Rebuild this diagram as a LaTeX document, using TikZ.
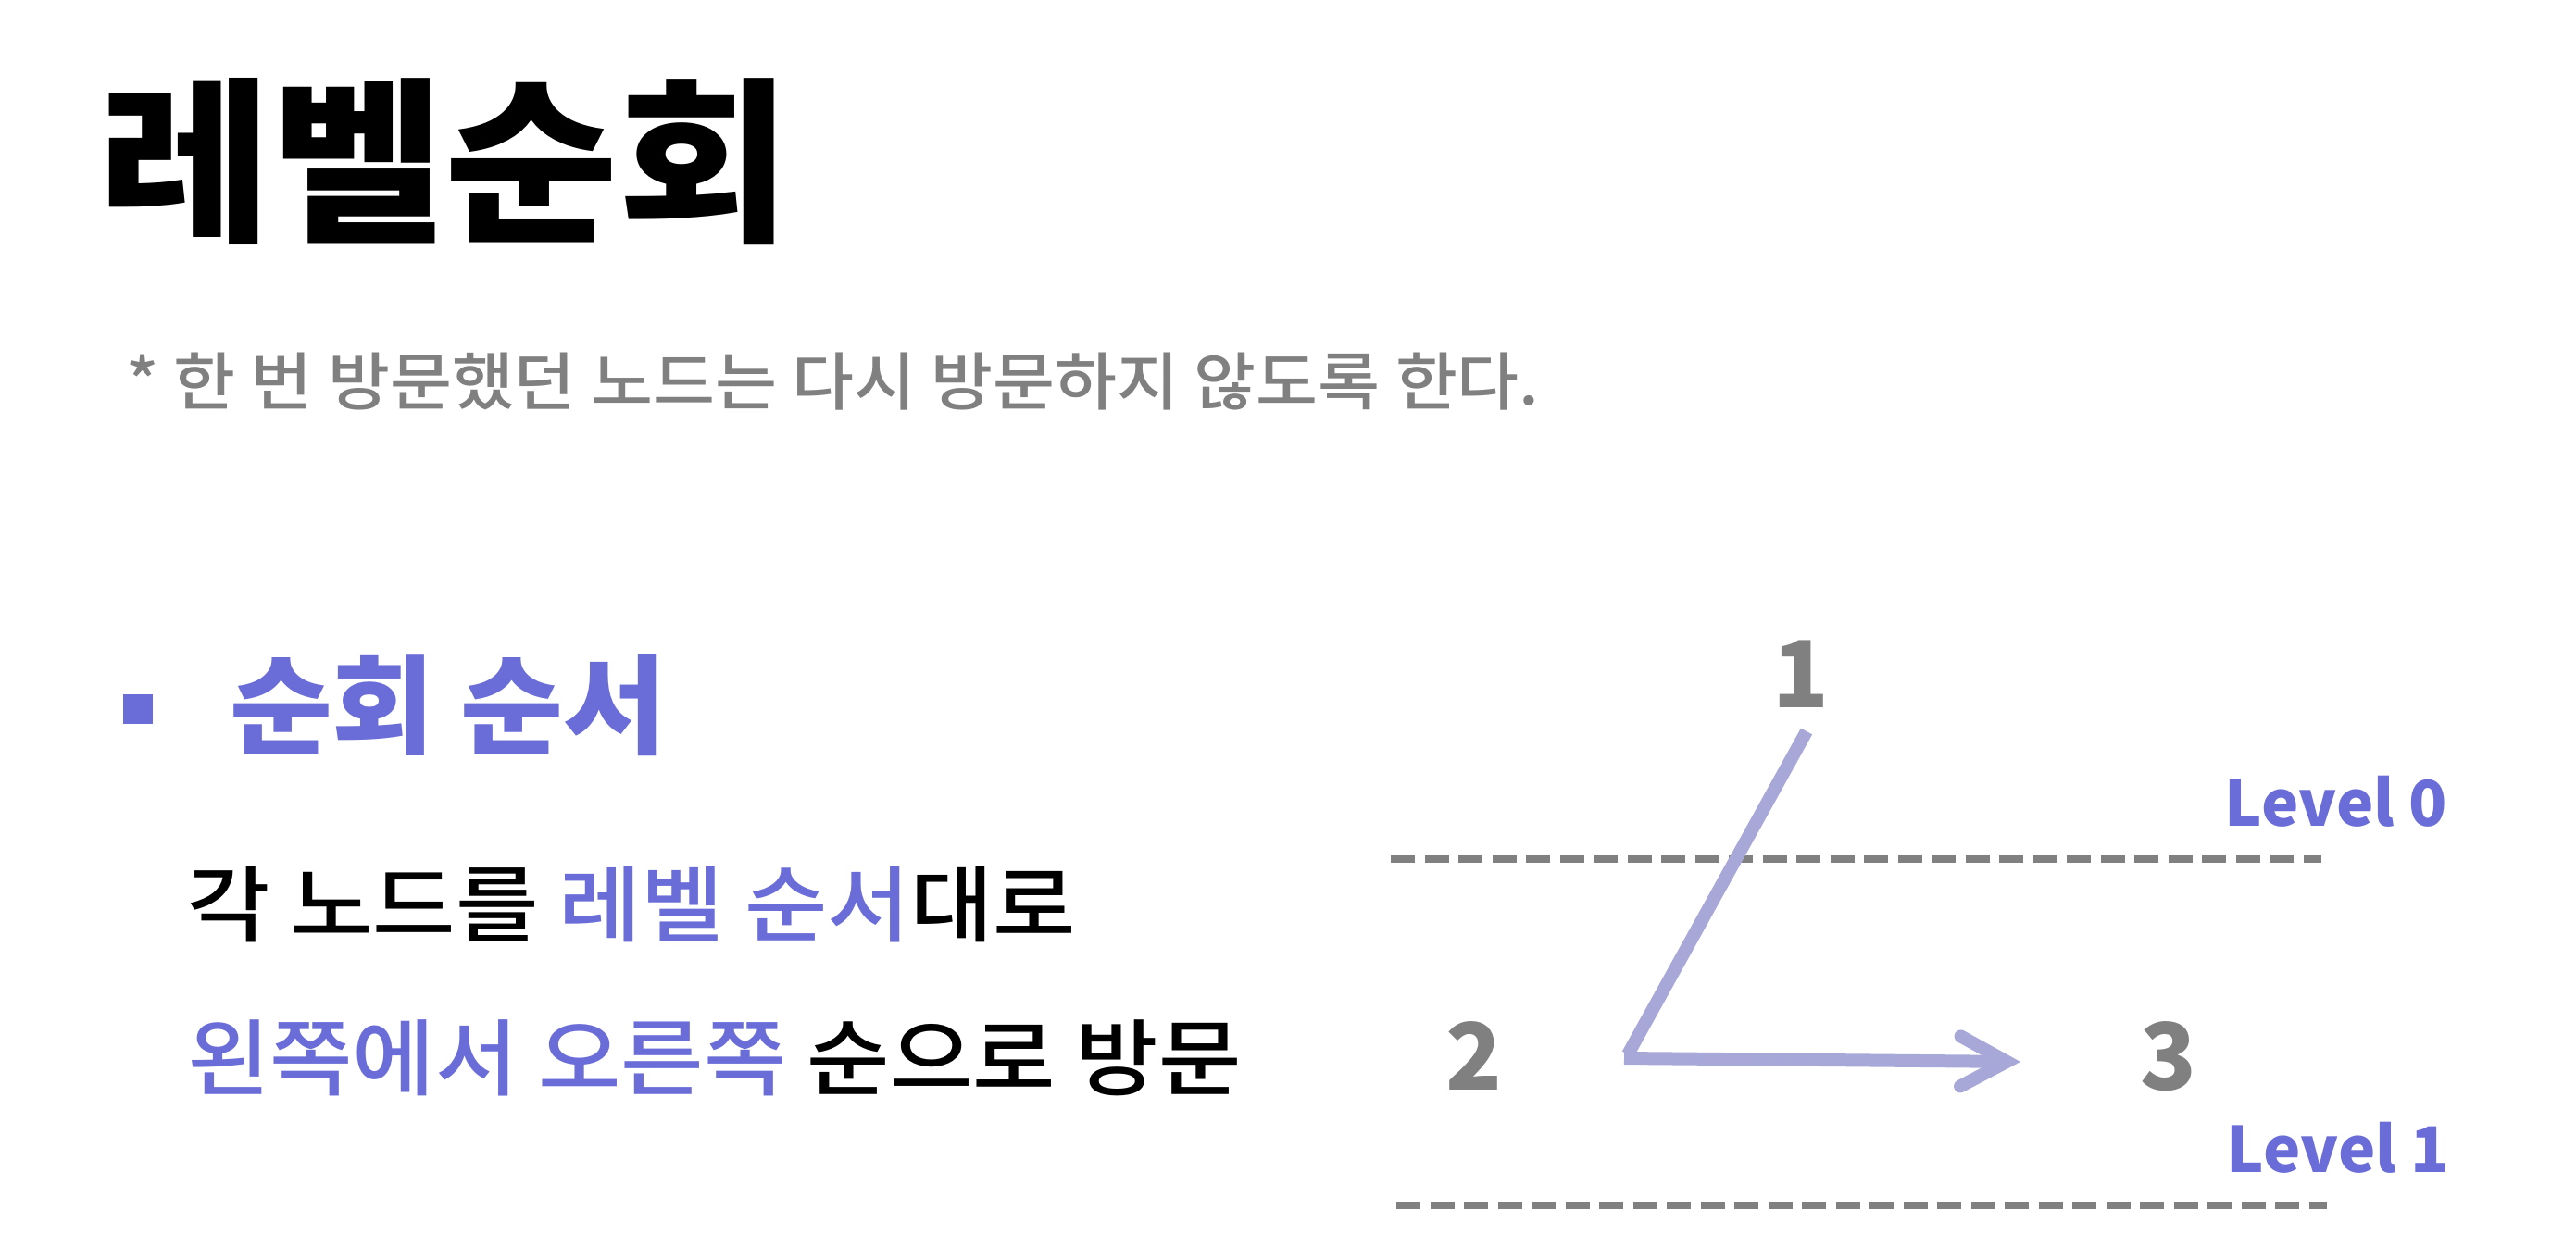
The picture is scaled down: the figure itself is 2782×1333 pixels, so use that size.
\documentclass[tikz,border=0pt]{standalone}
\usepackage{fontspec}
\usetikzlibrary{arrows.meta}
\newfontfamily\krmed[FakeStretch=1.08]{Noto Sans CJK KR Medium}
\newfontfamily\krnote[FakeStretch=1.07]{Noto Sans CJK KR Medium}
\newfontfamily\krblack{Noto Sans CJK KR Black}
\newfontfamily\krtitle[FakeStretch=1.06]{Noto Sans CJK KR Black}
\newfontfamily\krhead[FakeStretch=1.04]{Noto Sans CJK KR Black}
\definecolor{purp}{HTML}{6A6CD8}
\definecolor{lav}{HTML}{A8A8D8}
\definecolor{gry}{HTML}{808080}
\tikzset{
  txt/.style={inner sep=0pt, outer sep=0pt, anchor=west},
  digit/.style={inner sep=0pt, text=gry, font=\krblack\fontsize{100}{100}\selectfont},
  lvl/.style={inner sep=0pt, text=purp, font=\krblack\fontsize{68}{68}\selectfont},
  lvline/.style={draw=gry, line width=8pt, dash pattern=on 26pt off 10.5pt},
  trav/.style={draw=lav, line width=14pt},
}
\begin{document}
\begin{tikzpicture}[x=1pt,y=-1pt]
\useasboundingbox (0,0) rectangle (2782,1333);
% title
\node[txt, font=\krtitle\fontsize{192}{192}\selectfont] (title) at (106,175) {레벨순회};
\node[txt, text=gry, font=\krnote\fontsize{68}{68}\selectfont] (note) at (136,412) {* 한 번 방문했던 노드는 다시 방문하지 않도록 한다.};
% bullet
\node[inner sep=0pt, minimum width=32pt, minimum height=32pt, fill=purp] (bul) at (149,766) {};
\node[txt, text=purp, font=\krhead\fontsize{116}{116}\selectfont] (head) at (248,762) {순회 순서};
\node[txt, font=\krmed\fontsize{90}{90}\selectfont] (l1) at (202,977) {각 노드를 \textcolor{purp}{레벨 순서}대로};
\node[txt, font=\krmed\fontsize{90}{90}\selectfont] (l2) at (202,1143) {\textcolor{purp}{왼쪽에서 오른쪽} 순으로 방문};
% diagram
\node[digit] (n1) at (1945,728) {1};
\node[digit] (n2) at (1592,1140) {2};
\node[digit] (n3) at (2342,1141) {3};
\node[lvl] (lv0) at (2523,866) {Level 0};
\node[lvl] (lv1) at (2525,1240) {Level 1};
\coordinate (d0a) at (1502,928);
\coordinate (d0b) at (2507,928);
\coordinate (d1a) at (1508,1302);
\coordinate (d1b) at (2513,1302);
\draw[lvline] (d0a) -- (d0b);
\draw[lvline] (d1a) -- (d1b);
\coordinate (a0) at (1951,790);
\coordinate (a1) at (1758,1139);
\coordinate (b0) at (1754,1143);
\coordinate (b1) at (2182,1147);
\draw[trav] (a0) -- (a1);
\draw[trav, -{Straight Barb[length=50pt, width=54pt, line cap=round]}] (b0) -- (b1);
\end{tikzpicture}
\end{document}
